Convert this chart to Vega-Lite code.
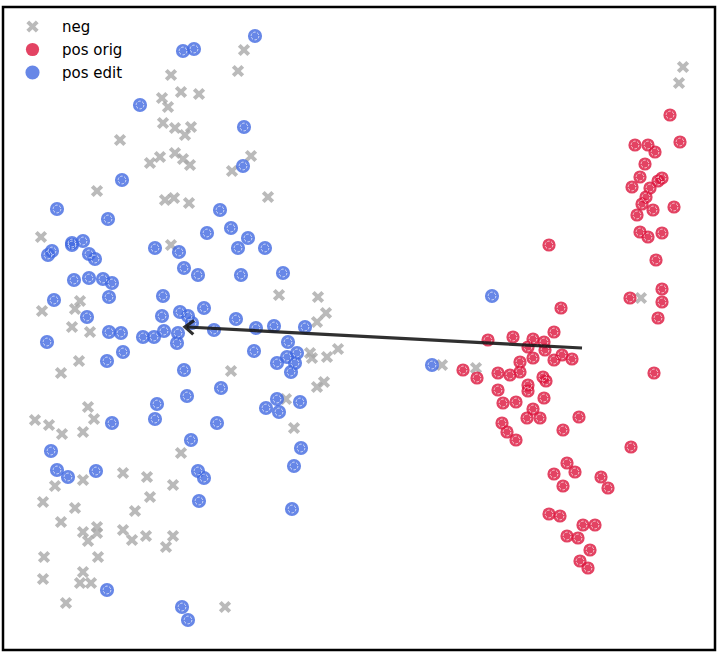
{
  "$schema": "https://vega.github.io/schema/vega-lite/v6.json",
  "width": 712,
  "height": 643,
  "autosize": {"type": "none"},
  "padding": {"left": 3, "top": 7, "right": 3, "bottom": 7},
  "config": {
    "view": {"stroke": "black", "strokeWidth": 2.5},
    "legend": {"labelFont": "DejaVu Sans", "labelFontSize": 15, "labelColor": "#000"}
  },
  "datasets": {
    "pts": [
      {"x":244,"y":50,"g":"neg"},{"x":238,"y":71,"g":"neg"},{"x":171,"y":75,"g":"neg"},{"x":181,"y":92,"g":"neg"},{"x":162,"y":98,"g":"neg"},{"x":199,"y":94,"g":"neg"},{"x":168,"y":107,"g":"neg"},{"x":163,"y":123,"g":"neg"},{"x":175,"y":128,"g":"neg"},{"x":185,"y":135,"g":"neg"},{"x":191,"y":127,"g":"neg"},{"x":120,"y":140,"g":"neg"},{"x":175,"y":153,"g":"neg"},{"x":160,"y":157,"g":"neg"},{"x":150,"y":163,"g":"neg"},{"x":183,"y":159,"g":"neg"},{"x":190,"y":165,"g":"neg"},{"x":251,"y":156,"g":"neg"},{"x":232,"y":171,"g":"neg"},{"x":97,"y":191,"g":"neg"},{"x":165,"y":200,"g":"neg"},{"x":174,"y":198,"g":"neg"},{"x":189,"y":203,"g":"neg"},{"x":268,"y":197,"g":"neg"},{"x":41,"y":237,"g":"neg"},{"x":171,"y":245,"g":"neg"},{"x":80,"y":301,"g":"neg"},{"x":75,"y":309,"g":"neg"},{"x":42,"y":311,"g":"neg"},{"x":72,"y":327,"g":"neg"},{"x":90,"y":332,"g":"neg"},{"x":79,"y":361,"g":"neg"},{"x":61,"y":373,"g":"neg"},{"x":88,"y":407,"g":"neg"},{"x":94,"y":419,"g":"neg"},{"x":35,"y":420,"g":"neg"},{"x":49,"y":425,"g":"neg"},{"x":62,"y":434,"g":"neg"},{"x":83,"y":432,"g":"neg"},{"x":279,"y":295,"g":"neg"},{"x":318,"y":297,"g":"neg"},{"x":326,"y":313,"g":"neg"},{"x":317,"y":322,"g":"neg"},{"x":310,"y":353,"g":"neg"},{"x":312,"y":358,"g":"neg"},{"x":327,"y":357,"g":"neg"},{"x":338,"y":349,"g":"neg"},{"x":231,"y":371,"g":"neg"},{"x":324,"y":382,"g":"neg"},{"x":317,"y":387,"g":"neg"},{"x":286,"y":399,"g":"neg"},{"x":294,"y":428,"g":"neg"},{"x":181,"y":453,"g":"neg"},{"x":123,"y":473,"g":"neg"},{"x":147,"y":477,"g":"neg"},{"x":173,"y":485,"g":"neg"},{"x":83,"y":480,"g":"neg"},{"x":55,"y":486,"g":"neg"},{"x":43,"y":502,"g":"neg"},{"x":75,"y":508,"g":"neg"},{"x":150,"y":497,"g":"neg"},{"x":135,"y":511,"g":"neg"},{"x":61,"y":522,"g":"neg"},{"x":83,"y":532,"g":"neg"},{"x":97,"y":527,"g":"neg"},{"x":97,"y":533,"g":"neg"},{"x":88,"y":541,"g":"neg"},{"x":123,"y":530,"g":"neg"},{"x":132,"y":540,"g":"neg"},{"x":146,"y":536,"g":"neg"},{"x":173,"y":536,"g":"neg"},{"x":166,"y":547,"g":"neg"},{"x":44,"y":557,"g":"neg"},{"x":98,"y":557,"g":"neg"},{"x":83,"y":572,"g":"neg"},{"x":43,"y":579,"g":"neg"},{"x":80,"y":583,"g":"neg"},{"x":91,"y":583,"g":"neg"},{"x":66,"y":603,"g":"neg"},{"x":225,"y":607,"g":"neg"},{"x":442,"y":365,"g":"neg"},{"x":476,"y":368,"g":"neg"},{"x":641,"y":298,"g":"neg"},{"x":683,"y":67,"g":"neg"},{"x":679,"y":83,"g":"neg"},
      {"x":463,"y":370,"g":"pos orig"},{"x":477,"y":378,"g":"pos orig"},{"x":488,"y":340,"g":"pos orig"},{"x":513,"y":337,"g":"pos orig"},{"x":533,"y":339,"g":"pos orig"},{"x":544,"y":342,"g":"pos orig"},{"x":554,"y":332,"g":"pos orig"},{"x":528,"y":347,"g":"pos orig"},{"x":545,"y":350,"g":"pos orig"},{"x":533,"y":358,"g":"pos orig"},{"x":520,"y":362,"g":"pos orig"},{"x":562,"y":355,"g":"pos orig"},{"x":572,"y":359,"g":"pos orig"},{"x":554,"y":360,"g":"pos orig"},{"x":520,"y":372,"g":"pos orig"},{"x":510,"y":375,"g":"pos orig"},{"x":498,"y":373,"g":"pos orig"},{"x":543,"y":377,"g":"pos orig"},{"x":546,"y":381,"g":"pos orig"},{"x":528,"y":385,"g":"pos orig"},{"x":498,"y":390,"g":"pos orig"},{"x":528,"y":391,"g":"pos orig"},{"x":503,"y":403,"g":"pos orig"},{"x":516,"y":402,"g":"pos orig"},{"x":544,"y":398,"g":"pos orig"},{"x":533,"y":409,"g":"pos orig"},{"x":527,"y":418,"g":"pos orig"},{"x":540,"y":418,"g":"pos orig"},{"x":502,"y":423,"g":"pos orig"},{"x":579,"y":417,"g":"pos orig"},{"x":563,"y":430,"g":"pos orig"},{"x":561,"y":308,"g":"pos orig"},{"x":549,"y":245,"g":"pos orig"},{"x":507,"y":432,"g":"pos orig"},{"x":516,"y":440,"g":"pos orig"},{"x":631,"y":447,"g":"pos orig"},{"x":567,"y":463,"g":"pos orig"},{"x":554,"y":474,"g":"pos orig"},{"x":575,"y":472,"g":"pos orig"},{"x":563,"y":486,"g":"pos orig"},{"x":601,"y":477,"g":"pos orig"},{"x":608,"y":488,"g":"pos orig"},{"x":549,"y":514,"g":"pos orig"},{"x":560,"y":516,"g":"pos orig"},{"x":583,"y":525,"g":"pos orig"},{"x":595,"y":525,"g":"pos orig"},{"x":567,"y":536,"g":"pos orig"},{"x":578,"y":538,"g":"pos orig"},{"x":590,"y":550,"g":"pos orig"},{"x":580,"y":561,"g":"pos orig"},{"x":588,"y":568,"g":"pos orig"},{"x":670,"y":115,"g":"pos orig"},{"x":635,"y":145,"g":"pos orig"},{"x":648,"y":145,"g":"pos orig"},{"x":655,"y":152,"g":"pos orig"},{"x":680,"y":142,"g":"pos orig"},{"x":645,"y":164,"g":"pos orig"},{"x":640,"y":177,"g":"pos orig"},{"x":658,"y":181,"g":"pos orig"},{"x":662,"y":178,"g":"pos orig"},{"x":632,"y":187,"g":"pos orig"},{"x":650,"y":188,"g":"pos orig"},{"x":646,"y":197,"g":"pos orig"},{"x":642,"y":204,"g":"pos orig"},{"x":653,"y":210,"g":"pos orig"},{"x":674,"y":207,"g":"pos orig"},{"x":637,"y":215,"g":"pos orig"},{"x":640,"y":232,"g":"pos orig"},{"x":662,"y":233,"g":"pos orig"},{"x":648,"y":237,"g":"pos orig"},{"x":656,"y":260,"g":"pos orig"},{"x":662,"y":289,"g":"pos orig"},{"x":662,"y":302,"g":"pos orig"},{"x":658,"y":318,"g":"pos orig"},{"x":630,"y":298,"g":"pos orig"},{"x":654,"y":373,"g":"pos orig"},
      {"x":183,"y":51,"g":"pos edit"},{"x":194,"y":49,"g":"pos edit"},{"x":255,"y":36,"g":"pos edit"},{"x":140,"y":105,"g":"pos edit"},{"x":244,"y":127,"g":"pos edit"},{"x":243,"y":166,"g":"pos edit"},{"x":122,"y":180,"g":"pos edit"},{"x":57,"y":209,"g":"pos edit"},{"x":108,"y":219,"g":"pos edit"},{"x":220,"y":210,"g":"pos edit"},{"x":72,"y":243,"g":"pos edit"},{"x":83,"y":241,"g":"pos edit"},{"x":72,"y":245,"g":"pos edit"},{"x":52,"y":251,"g":"pos edit"},{"x":48,"y":255,"g":"pos edit"},{"x":155,"y":248,"g":"pos edit"},{"x":179,"y":252,"g":"pos edit"},{"x":89,"y":254,"g":"pos edit"},{"x":95,"y":259,"g":"pos edit"},{"x":184,"y":268,"g":"pos edit"},{"x":74,"y":280,"g":"pos edit"},{"x":89,"y":278,"g":"pos edit"},{"x":103,"y":279,"g":"pos edit"},{"x":112,"y":283,"g":"pos edit"},{"x":54,"y":300,"g":"pos edit"},{"x":109,"y":297,"g":"pos edit"},{"x":163,"y":296,"g":"pos edit"},{"x":231,"y":228,"g":"pos edit"},{"x":207,"y":233,"g":"pos edit"},{"x":248,"y":238,"g":"pos edit"},{"x":238,"y":248,"g":"pos edit"},{"x":265,"y":248,"g":"pos edit"},{"x":198,"y":275,"g":"pos edit"},{"x":241,"y":275,"g":"pos edit"},{"x":283,"y":273,"g":"pos edit"},{"x":180,"y":312,"g":"pos edit"},{"x":188,"y":316,"g":"pos edit"},{"x":192,"y":323,"g":"pos edit"},{"x":204,"y":308,"g":"pos edit"},{"x":87,"y":317,"g":"pos edit"},{"x":47,"y":342,"g":"pos edit"},{"x":109,"y":332,"g":"pos edit"},{"x":121,"y":333,"g":"pos edit"},{"x":143,"y":337,"g":"pos edit"},{"x":154,"y":337,"g":"pos edit"},{"x":164,"y":331,"g":"pos edit"},{"x":162,"y":316,"g":"pos edit"},{"x":178,"y":333,"g":"pos edit"},{"x":177,"y":343,"g":"pos edit"},{"x":123,"y":352,"g":"pos edit"},{"x":107,"y":361,"g":"pos edit"},{"x":184,"y":370,"g":"pos edit"},{"x":157,"y":404,"g":"pos edit"},{"x":155,"y":419,"g":"pos edit"},{"x":187,"y":396,"g":"pos edit"},{"x":112,"y":423,"g":"pos edit"},{"x":191,"y":440,"g":"pos edit"},{"x":51,"y":451,"g":"pos edit"},{"x":236,"y":319,"g":"pos edit"},{"x":214,"y":330,"g":"pos edit"},{"x":256,"y":328,"g":"pos edit"},{"x":274,"y":326,"g":"pos edit"},{"x":305,"y":327,"g":"pos edit"},{"x":288,"y":342,"g":"pos edit"},{"x":254,"y":351,"g":"pos edit"},{"x":297,"y":353,"g":"pos edit"},{"x":287,"y":357,"g":"pos edit"},{"x":277,"y":363,"g":"pos edit"},{"x":295,"y":363,"g":"pos edit"},{"x":291,"y":372,"g":"pos edit"},{"x":221,"y":388,"g":"pos edit"},{"x":277,"y":399,"g":"pos edit"},{"x":266,"y":408,"g":"pos edit"},{"x":279,"y":412,"g":"pos edit"},{"x":300,"y":402,"g":"pos edit"},{"x":217,"y":423,"g":"pos edit"},{"x":301,"y":448,"g":"pos edit"},{"x":57,"y":470,"g":"pos edit"},{"x":68,"y":477,"g":"pos edit"},{"x":96,"y":471,"g":"pos edit"},{"x":294,"y":466,"g":"pos edit"},{"x":198,"y":471,"g":"pos edit"},{"x":204,"y":478,"g":"pos edit"},{"x":199,"y":501,"g":"pos edit"},{"x":292,"y":509,"g":"pos edit"},{"x":107,"y":590,"g":"pos edit"},{"x":182,"y":607,"g":"pos edit"},{"x":188,"y":620,"g":"pos edit"},{"x":432,"y":365,"g":"pos edit"},{"x":492,"y":296,"g":"pos edit"}
    ],
    "arrow": [{"x":582,"y":348},{"x":187,"y":327}],
    "head": [{"x":185,"y":327}]
  },
  "layer": [
    {
      "data": {"name": "pts"},
      "mark": {"type": "point", "filled": true, "opacity": 0.8},
      "encoding": {
        "x": {"field": "x", "type": "quantitative", "scale": {"domain": [3, 715], "nice": false, "zero": false}, "axis": null},
        "y": {"field": "y", "type": "quantitative", "scale": {"domain": [7, 650], "nice": false, "zero": false, "reverse": true}, "axis": null},
        "color": {"field": "g", "type": "nominal", "scale": {"domain": ["neg", "pos orig", "pos edit"], "range": ["#a9a9a9", "#dc143c", "#4169e1"]},
          "legend": {"title": null, "orient": "none", "legendX": 22, "legendY": 12, "padding": 0, "symbolSize": 190, "symbolOpacity": 0.8, "labelOffset": 22, "rowPadding": 7, "symbolStrokeWidth": 0}},
        "shape": {"field": "g", "type": "nominal", "scale": {"domain": ["neg", "pos orig", "pos edit"], "range": ["M-0.55,-1L0,-0.45L0.55,-1L1,-0.55L0.45,0L1,0.55L0.55,1L0,0.45L-0.55,1L-1,0.55L-0.45,0L-1,-0.55Z", "circle", "circle"]},
          "legend": {"title": null, "orient": "none", "legendX": 22, "legendY": 12, "padding": 0, "symbolSize": 190, "symbolOpacity": 0.8, "labelOffset": 22, "rowPadding": 7, "symbolStrokeWidth": 0}},
        "size": {"field": "g", "type": "nominal", "scale": {"domain": ["neg", "pos orig", "pos edit"], "range": [150, 200, 200]}, "legend": null}
      }
    },
    {
      "data": {"name": "pts"},
      "transform": [{"filter": "datum.g !== 'neg'"}],
      "mark": {"type": "point", "shape": "circle", "filled": false, "stroke": "white", "strokeWidth": 1, "strokeDash": [2.5, 1.5], "size": 60, "opacity": 0.7},
      "encoding": {
        "x": {"field": "x", "type": "quantitative"},
        "y": {"field": "y", "type": "quantitative"}
      }
    },
    {
      "data": {"name": "arrow"},
      "mark": {"type": "line", "color": "#1a1a1a", "strokeWidth": 3.2, "opacity": 0.9},
      "encoding": {
        "x": {"field": "x", "type": "quantitative"},
        "y": {"field": "y", "type": "quantitative"}
      }
    },
    {
      "data": {"name": "head"},
      "mark": {"type": "point", "shape": "M1,-0.8L0,0L1,0.8", "filled": false, "stroke": "#1a1a1a", "strokeWidth": 3.2, "size": 300, "angle": 3, "opacity": 0.9},
      "encoding": {
        "x": {"field": "x", "type": "quantitative"},
        "y": {"field": "y", "type": "quantitative"}
      }
    }
  ]
}
